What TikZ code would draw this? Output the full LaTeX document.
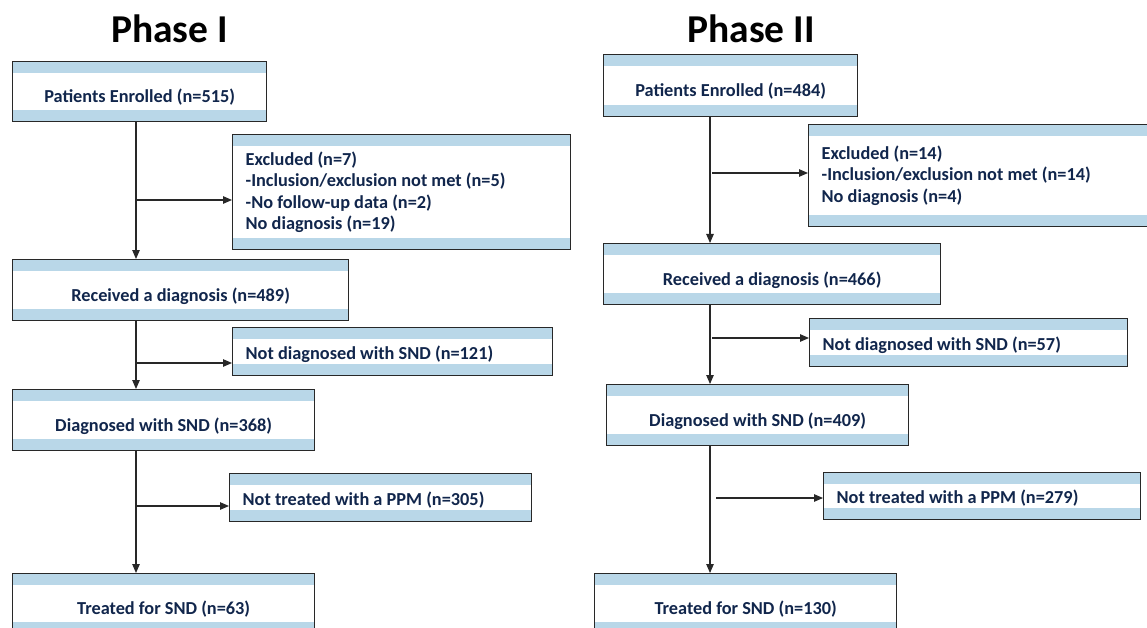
\documentclass[tikz,border=0pt]{standalone}
\usepackage{fontspec}
\setmainfont{Carlito}
\usetikzlibrary{arrows.meta}

\definecolor{bandblue}{RGB}{185,215,232}
\definecolor{textnavy}{RGB}{17,38,76}
\definecolor{edgegray}{RGB}{40,40,40}

\tikzset{
  banded/.style={draw=edgegray, line width=1.3pt, fill=white, anchor=north west,
    inner ysep=0pt, text=textnavy, font=\bfseries\fontsize{18.3}{21.5}\selectfont,
    path picture={
      \fill[bandblue] (path picture bounding box.north west) rectangle ([yshift=-11.5pt]path picture bounding box.north east);
      \fill[bandblue] (path picture bounding box.south west) rectangle ([yshift=11.5pt]path picture bounding box.south east);
    }},
  stepbox/.style={banded, inner xsep=0pt, text height=22pt, text depth=0pt},
  sidebox/.style={banded, inner xsep=13pt, align=flush left},
  flowline/.style={draw=edgegray, line width=1.1pt},
  flowarrow/.style={flowline, -{Triangle[length=9pt,width=7.5pt]}},
  phasetitle/.style={anchor=base, font=\bfseries\fontsize{39.5}{44}\selectfont},
}

\begin{document}
\begin{tikzpicture}[x=1pt, y=-1pt]
    \useasboundingbox (0,0) rectangle (1147,628);
    \clip (0,0) rectangle (1147,628);

    % Phase I
    \node[phasetitle] (titleI) at (169.5,43) {Phase I};
    \node[stepbox, minimum width=254pt, minimum height=60pt] (enrolI) at (12,61) {Patients Enrolled (n=515)};
    \node[sidebox, text width=312pt, minimum height=115pt] (exclI) at (232,134)
        {Excluded (n=7)\\-Inclusion/exclusion not met (n=5)\\-No follow-up data (n=2)\\No diagnosis (n=19)};
    \node[stepbox, minimum width=336pt, minimum height=61pt] (recvI) at (12,259) {Received a diagnosis (n=489)};
    \node[sidebox, text width=294pt, minimum height=48pt, text height=15pt, text depth=0pt] (notdxI) at (232,327) {Not diagnosed with SND (n=121)};
    \node[stepbox, minimum width=302pt, minimum height=61pt] (dxI) at (12,389) {Diagnosed with SND (n=368)};
    \node[sidebox, text width=276pt, minimum height=48pt, text height=15pt, text depth=0pt] (nottrI) at (229,473) {Not treated with a PPM (n=305)};
    \node[stepbox, minimum width=302pt, minimum height=60pt] (treatI) at (12,573) {Treated for SND (n=63)};

    \coordinate (spineI) at (136,0);
    \draw[flowarrow] (enrolI.south -| spineI) -- (recvI.north -| spineI);
    \draw[flowarrow] (recvI.south -| spineI) -- (dxI.north -| spineI);
    \draw[flowarrow] (dxI.south -| spineI) -- (treatI.north -| spineI);
    \coordinate (forkIa) at (136,200);
    \coordinate (forkIb) at (136,363);
    \coordinate (forkIc) at (136,506);
    \draw[flowarrow] (forkIa) -- (forkIa -| exclI.west);
    \draw[flowarrow] (forkIb) -- (forkIb -| notdxI.west);
    \draw[flowarrow] (forkIc) -- (forkIc -| nottrI.west);

    % Phase II
    \node[phasetitle] (titleII) at (751,43) {Phase II};
    \node[stepbox, minimum width=254pt, minimum height=62pt] (enrolII) at (603,54) {Patients Enrolled (n=484)};
    \node[sidebox, text width=326pt, minimum height=102pt] (exclII) at (808,124)
        {Excluded (n=14)\\-Inclusion/exclusion not met (n=14)\\No diagnosis (n=4)};
    \node[stepbox, minimum width=337pt, minimum height=61pt] (recvII) at (603,243) {Received a diagnosis (n=466)};
    \node[sidebox, text width=292pt, minimum height=48pt, text height=15pt, text depth=0pt] (notdxII) at (809,318) {Not diagnosed with SND (n=57)};
    \node[stepbox, minimum width=302pt, minimum height=61pt] (dxII) at (606,384) {Diagnosed with SND (n=409)};
    \node[sidebox, text width=291pt, minimum height=47pt, text height=15pt, text depth=0pt] (nottrII) at (823,472) {Not treated with a PPM (n=279)};
    \node[stepbox, minimum width=302pt, minimum height=60pt] (treatII) at (594,573) {Treated for SND (n=130)};

    \coordinate (spineII) at (710,0);
    \draw[flowarrow] (enrolII.south -| spineII) -- (recvII.north -| spineII);
    \draw[flowarrow] (recvII.south -| spineII) -- (dxII.north -| spineII);
    \draw[flowarrow] (dxII.south -| spineII) -- (treatII.north -| spineII);
    \coordinate (forkIIa) at (712,173);
    \coordinate (forkIIb) at (712,338);
    \coordinate (forkIIc) at (716,498);
    \draw[flowarrow] (forkIIa) -- (forkIIa -| exclII.west);
    \draw[flowarrow] (forkIIb) -- (forkIIb -| notdxII.west);
    \draw[flowarrow] (forkIIc) -- (forkIIc -| nottrII.west);
\end{tikzpicture}
\end{document}
